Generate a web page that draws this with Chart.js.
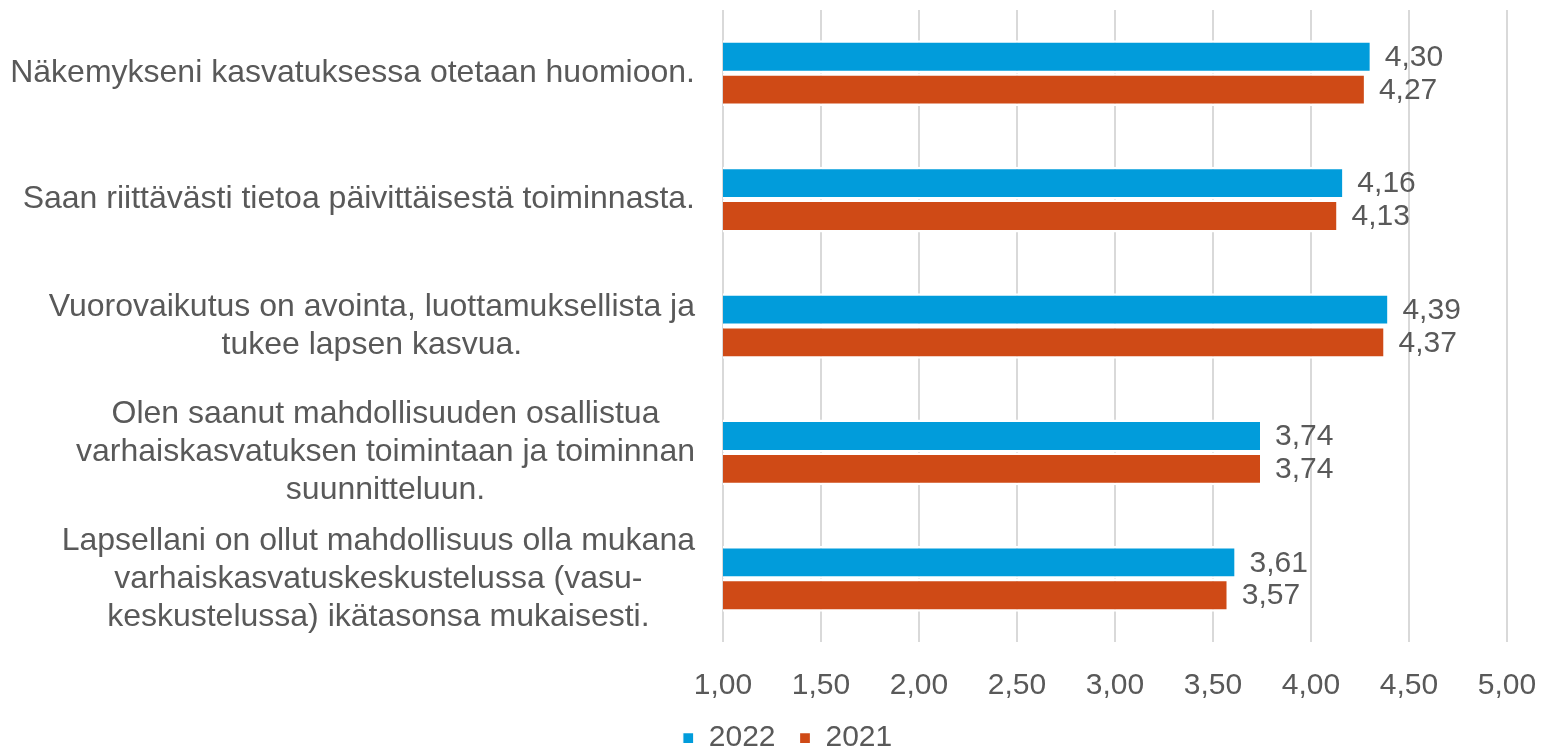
<!DOCTYPE html>
<html>
<head>
<meta charset="utf-8">
<script src="https://cdn.jsdelivr.net/npm/chart.js@4/dist/chart.umd.min.js"></script>
<style>
  html, body { margin: 0; padding: 0; background: #fff; }
  #wrap { width: 1541px; height: 753px; position: relative; }
</style>
</head>
<body>
<div id="wrap"><canvas id="chart"></canvas></div>
<script>
// Category labels, one array of lines per question
const questions = [
  ['Näkemykseni kasvatuksessa otetaan huomioon.'],
  ['Saan riittävästi tietoa päivittäisestä toiminnasta.'],
  ['Vuorovaikutus on avointa, luottamuksellista ja', 'tukee lapsen kasvua.'],
  ['Olen saanut mahdollisuuden osallistua', 'varhaiskasvatuksen toimintaan ja toiminnan', 'suunnitteluun.'],
  ['Lapsellani on ollut mahdollisuus olla mukana', 'varhaiskasvatuskeskustelussa (vasu-', 'keskustelussa) ikätasonsa mukaisesti.']
];
const values2022 = [4.30, 4.16, 4.39, 3.74, 3.61];
const values2021 = [4.27, 4.13, 4.37, 3.74, 3.57];
const seriesNames = ['2022', '2021'];
const axisMin = 1;
const axisMax = 5;
const axisStep = 0.5;

const FONT = '"Liberation Sans", Arial, sans-serif';
const TEXT = '#595959';

function fmt(v) {
  return v.toFixed(2).replace('.', ',');
}

// Draws the centred multi-line category labels, right aligned as a block
const categoryLabels = {
  id: 'categoryLabels',
  afterDraw(chart) {
    const ctx = chart.ctx;
    const yScale = chart.scales.y;
    const right = chart.chartArea.left - 28;
    const lineH = 38;
    ctx.save();
    ctx.font = '32px ' + FONT;
    ctx.fillStyle = TEXT;
    ctx.textAlign = 'center';
    ctx.textBaseline = 'middle';
    chart.data.labels.forEach((lines, i) => {
      const y = yScale.getPixelForTick(i);
      const w = Math.max(...lines.map(l => ctx.measureText(l).width));
      const cx = right - w / 2;
      const top = y - (lines.length - 1) * lineH / 2;
      lines.forEach((l, j) => ctx.fillText(l, cx, top + j * lineH));
    });
    ctx.restore();
  }
};

// Value labels to the right of each bar
const valueLabels = {
  id: 'valueLabels',
  afterDatasetsDraw(chart) {
    const ctx = chart.ctx;
    ctx.save();
    ctx.font = '30px ' + FONT;
    ctx.fillStyle = TEXT;
    ctx.textAlign = 'left';
    ctx.textBaseline = 'middle';
    chart.data.datasets.forEach((ds, di) => {
      chart.getDatasetMeta(di).data.forEach((bar, i) => {
        ctx.fillText(fmt(ds.data[i]), bar.x + 15, bar.y + 1);
      });
    });
    ctx.restore();
  }
};

new Chart(document.getElementById('chart'), {
  type: 'bar',
  data: {
    labels: questions,
    datasets: [
      {
        label: seriesNames[0],
        data: values2022,
        backgroundColor: '#019cdb',
        borderColor: '#ffffff',
        borderWidth: { top: 2.5, bottom: 2.5, left: 0, right: 0 },
        borderSkipped: false
      },
      {
        label: seriesNames[1],
        data: values2021,
        backgroundColor: '#cf4a16',
        borderColor: '#ffffff',
        borderWidth: { top: 2.5, bottom: 2.5, left: 0, right: 0 },
        borderSkipped: false
      }
    ]
  },
  options: {
    indexAxis: 'y',
    responsive: true,
    maintainAspectRatio: false,
    animation: false,
    layout: { padding: { top: 10, right: 34, bottom: -10, left: 68 } },
    datasets: {
      bar: { categoryPercentage: 0.52, barPercentage: 1 }
    },
    scales: {
      x: {
        min: axisMin,
        max: axisMax,
        grid: { color: '#d9d9d9', lineWidth: 2, drawTicks: false },
        border: { display: false },
        ticks: {
          stepSize: axisStep,
          padding: 26,
          color: TEXT,
          font: { family: FONT, size: 30 },
          callback: v => fmt(v)
        },
        afterFit(scale) {
          scale.height = 57;
          scale.paddingLeft = 0;
          scale.paddingRight = 0;
        }
      },
      y: {
        grid: { display: false },
        border: { display: false },
        ticks: { display: false },
        afterFit(scale) { scale.width = 655; }
      }
    },
    plugins: {
      legend: {
        position: 'bottom',
        labels: {
          boxWidth: 11,
          boxHeight: 11,
          padding: 24,
          color: TEXT,
          font: { family: FONT, size: 30 }
        }
      },
      tooltip: { enabled: false }
    }
  },
  plugins: [categoryLabels, valueLabels]
});
</script>
</body>
</html>
